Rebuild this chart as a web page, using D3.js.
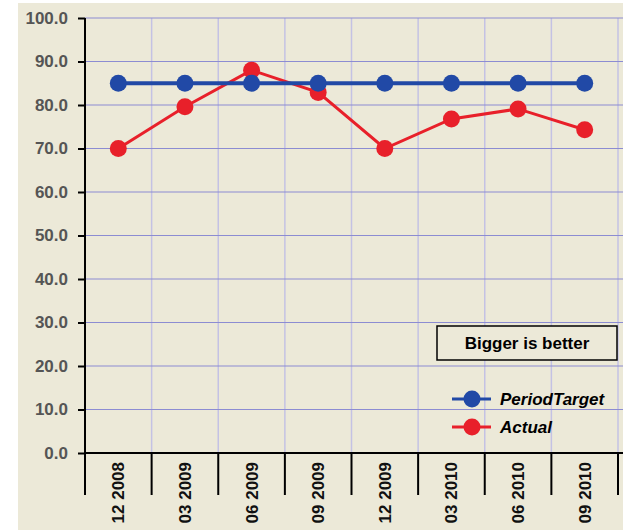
<!DOCTYPE html>
<html>
<head>
<meta charset="utf-8">
<script src="https://cdn.jsdelivr.net/npm/d3@7"></script>
<style>
  body { margin: 0; background: #ffffff; }
  svg { display: block; }
</style>
</head>
<body>
<svg id="chart"></svg>
<script>
const periods = ["12 2008", "03 2009", "06 2009", "09 2009", "12 2009", "03 2010", "06 2010", "09 2010"];
const periodTarget = [85, 85, 85, 85, 85, 85, 85, 85];
const actual = [70, 79.6, 88, 82.9, 70, 76.8, 79.1, 74.3];
const yTicks = [0, 10, 20, 30, 40, 50, 60, 70, 80, 90, 100];

const W = 623, H = 530;
const margin = { top: 18, right: 5, bottom: 77, left: 85 };
const width = 533;
const height = H - margin.top - margin.bottom;
const font = "'Liberation Sans', Arial, sans-serif";

const svg = d3.select("#chart").attr("width", W).attr("height", H);

// beige panel
svg.append("rect")
    .attr("x", 18).attr("y", 3)
    .attr("width", W - 18).attr("height", H - 3)
    .attr("fill", "#ece9d8");

const g = svg.append("g")
    .attr("transform", "translate(" + margin.left + "," + margin.top + ")");

const x = d3.scaleBand().domain(periods).range([0, width]);
const y = d3.scaleLinear().domain([0, 100]).range([height, 0]);

// vertical grid
g.selectAll(".vgrid")
    .data(periods.slice(1).concat(["end"]))
    .enter().append("line")
    .attr("x1", (d, i) => x.step() * (i + 1))
    .attr("x2", (d, i) => x.step() * (i + 1))
    .attr("y1", 0).attr("y2", height)
    .attr("stroke", "#c4c2e4").attr("stroke-width", 1.5);

// horizontal grid
g.selectAll(".hgrid")
    .data(yTicks.slice(1))
    .enter().append("line")
    .attr("x1", 0).attr("x2", W - margin.left)
    .attr("y1", d => y(d)).attr("y2", d => y(d))
    .attr("stroke", "#8c8cd2").attr("stroke-width", 1.2);

// y axis
const yAxis = d3.axisLeft(y)
    .tickValues(yTicks)
    .tickFormat(d3.format(".1f"))
    .tickSize(7)
    .tickPadding(10);

g.append("g").call(yAxis)
    .call(a => a.select(".domain").remove())
    .call(a => a.selectAll("line").attr("stroke", "#000").attr("stroke-width", 2))
    .call(a => a.selectAll("text")
        .attr("fill", "#555")
        .style("font", "bold 17px " + font));

g.append("line")
    .attr("x1", 0).attr("x2", 0).attr("y1", 0).attr("y2", height)
    .attr("stroke", "#000").attr("stroke-width", 2);

// x axis
g.append("line")
    .attr("x1", 0).attr("x2", W - margin.left).attr("y1", height).attr("y2", height)
    .attr("stroke", "#000").attr("stroke-width", 2);

g.selectAll(".xtick")
    .data(periods)
    .enter().append("line")
    .attr("x1", d => x(d)).attr("x2", d => x(d))
    .attr("y1", height).attr("y2", height + 42)
    .attr("stroke", "#000").attr("stroke-width", 2);

g.append("line")
    .attr("x1", width).attr("x2", width)
    .attr("y1", height).attr("y2", height + 42)
    .attr("stroke", "#000").attr("stroke-width", 2);

g.selectAll(".xlabel")
    .data(periods)
    .enter().append("text")
    .attr("transform", d => "translate(" + (x(d) + x.bandwidth() / 2 + 6) + "," + (height + 9) + ") rotate(-90)")
    .attr("text-anchor", "end")
    .attr("fill", "#111")
    .style("font", "bold 17px " + font)
    .text(d => d);

// series
const series = [
    { name: "Actual", values: actual, color: "#e8202a", width: 3 },
    { name: "PeriodTarget", values: periodTarget, color: "#2149a6", width: 4 }
];

const line = d3.line()
    .x((d, i) => x(periods[i]) + x.bandwidth() / 2)
    .y(d => y(d));

series.forEach(s => {
    g.append("path")
        .datum(s.values)
        .attr("d", line)
        .attr("fill", "none")
        .attr("stroke", s.color)
        .attr("stroke-width", s.width);
    g.selectAll(".pt-" + s.name)
        .data(s.values)
        .enter().append("circle")
        .attr("cx", (d, i) => x(periods[i]) + x.bandwidth() / 2)
        .attr("cy", d => y(d))
        .attr("r", 8.5)
        .attr("fill", s.color);
});

// note box
svg.append("rect")
    .attr("x", 437).attr("y", 326)
    .attr("width", 180).attr("height", 34)
    .attr("fill", "#ece9d8")
    .attr("stroke", "#000").attr("stroke-width", 1.5);

svg.append("text")
    .attr("x", 527).attr("y", 349)
    .attr("text-anchor", "middle")
    .attr("fill", "#000")
    .style("font", "bold 17px " + font)
    .text("Bigger is better");

// legend
const legend = svg.append("g").attr("transform", "translate(452,399)");
[series[1], series[0]].forEach((s, i) => {
    const row = legend.append("g").attr("transform", "translate(0," + (i * 28) + ")");
    row.append("line")
        .attr("x1", 0).attr("x2", 39)
        .attr("stroke", s.color).attr("stroke-width", 3);
    row.append("circle")
        .attr("cx", 20).attr("cy", 0).attr("r", 8.5)
        .attr("fill", s.color);
    row.append("text")
        .attr("x", 48).attr("y", 6)
        .attr("fill", "#000")
        .style("font", "italic bold 17px " + font)
        .text(s.name);
});
</script>
</body>
</html>
